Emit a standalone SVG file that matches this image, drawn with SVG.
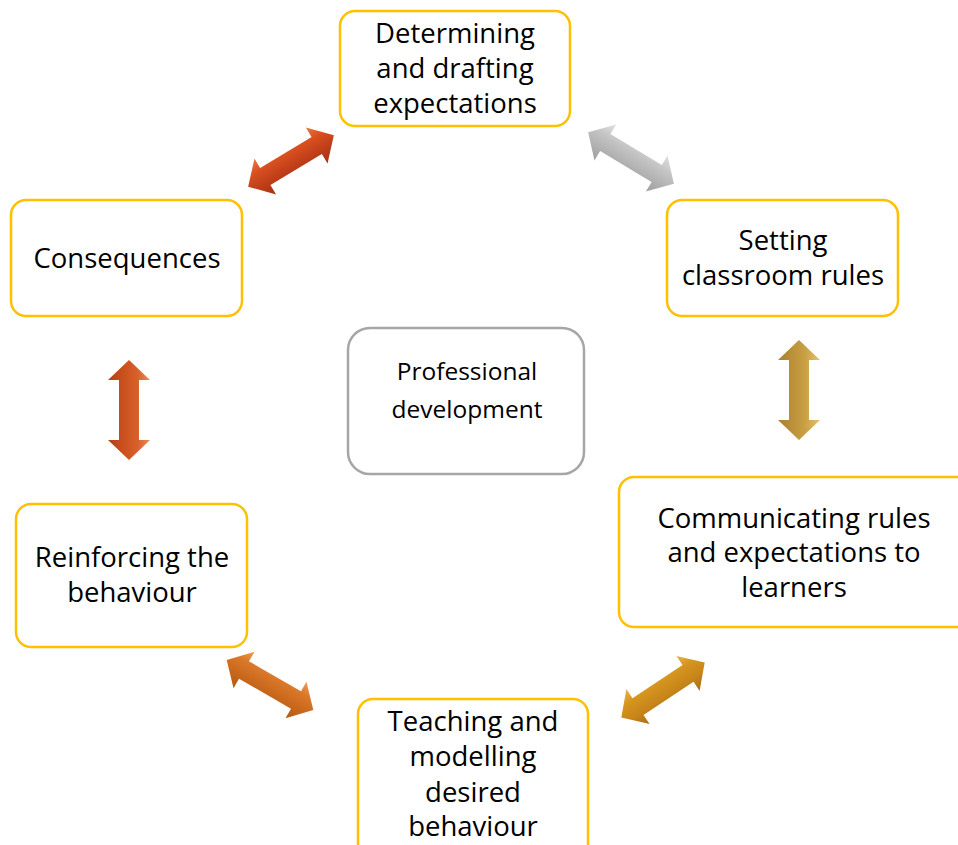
<svg xmlns="http://www.w3.org/2000/svg" width="958" height="845" viewBox="0 0 958 845">
  <style>
    .box { fill: #ffffff; stroke: #FFC000; stroke-width: 2.5; }
    .core { fill: #ffffff; stroke: #A6A6A6; stroke-width: 2.5; }
    .lbl { font-family: "Open Sans", Lato, "Liberation Sans", sans-serif; font-size: 27.5px; fill: #000; text-anchor: middle; }
    .lbl-s { font-size: 24.5px; }
  </style>
  <defs>
    <!-- double-headed arrow, 100 long, centred on the origin, pointing along x -->
    <polygon id="dbl" points="-50,0 -30,-21 -30,-10 30,-10 30,-21 50,0 30,21 30,10 -30,10 -30,21"/>
    <linearGradient id="gRed" x1="0" y1="0" x2="0" y2="1">
      <stop offset="0" stop-color="#E8784A"/><stop offset="0.3" stop-color="#D9501F"/><stop offset="0.6" stop-color="#C2401A"/><stop offset="1" stop-color="#A93012"/>
    </linearGradient>
    <linearGradient id="gGray" x1="0" y1="0" x2="0" y2="1">
      <stop offset="0" stop-color="#E0E0E0"/><stop offset="0.35" stop-color="#C4C4C4"/><stop offset="0.7" stop-color="#B0B0B0"/><stop offset="1" stop-color="#A0A0A0"/>
    </linearGradient>
    <linearGradient id="gGold" x1="0" y1="0" x2="0" y2="1">
      <stop offset="0" stop-color="#E6C36E"/><stop offset="0.35" stop-color="#C9A045"/><stop offset="0.7" stop-color="#B98F38"/><stop offset="1" stop-color="#A88030"/>
    </linearGradient>
    <linearGradient id="gRust" x1="0" y1="0" x2="0" y2="1">
      <stop offset="0" stop-color="#EE8A55"/><stop offset="0.3" stop-color="#D8602A"/><stop offset="0.65" stop-color="#C9501E"/><stop offset="1" stop-color="#B04018"/>
    </linearGradient>
    <linearGradient id="gOrange" x1="0" y1="0" x2="0" y2="1">
      <stop offset="0" stop-color="#EE9A55"/><stop offset="0.3" stop-color="#D9782A"/><stop offset="0.65" stop-color="#C9681C"/><stop offset="1" stop-color="#B05A14"/>
    </linearGradient>
    <linearGradient id="gAmber" x1="0" y1="0" x2="0" y2="1">
      <stop offset="0" stop-color="#EAB050"/><stop offset="0.3" stop-color="#D6951E"/><stop offset="0.65" stop-color="#C8851A"/><stop offset="1" stop-color="#A87014"/>
    </linearGradient>
  </defs>

  <g id="connectors">
    <use href="#dbl" fill="url(#gRed)" transform="translate(291,161) rotate(-31)"/>
    <use href="#dbl" fill="url(#gGray)" transform="translate(631,158) rotate(31)"/>
    <use href="#dbl" fill="url(#gGold)" transform="translate(799,390) rotate(90)"/>
    <use href="#dbl" fill="url(#gAmber)" transform="translate(663,690) rotate(-33.5)"/>
    <use href="#dbl" fill="url(#gOrange)" transform="translate(270,685) rotate(30)"/>
    <use href="#dbl" fill="url(#gRust)" transform="translate(129,410) rotate(90)"/>
  </g>

  <g id="determining">
    <rect class="box" x="340" y="11" width="230" height="115" rx="15"/>
    <text class="lbl" x="455" y="43">Determining</text>
    <text class="lbl" x="455" y="78">and drafting</text>
    <text class="lbl" x="455" y="113">expectations</text>
  </g>

  <g id="setting">
    <rect class="box" x="667" y="200" width="231" height="116" rx="15"/>
    <text class="lbl" x="783" y="250">Setting</text>
    <text class="lbl" x="783" y="285">classroom rules</text>
  </g>

  <g id="communicating">
    <rect class="box" x="619" y="477" width="360" height="150" rx="15"/>
    <text class="lbl" x="794" y="528">Communicating rules</text>
    <text class="lbl" x="794" y="562">and expectations to</text>
    <text class="lbl" x="794" y="597">learners</text>
  </g>

  <g id="teaching">
    <rect class="box" x="358" y="699" width="230" height="170" rx="15"/>
    <text class="lbl" x="473" y="731">Teaching and</text>
    <text class="lbl" x="473" y="766">modelling</text>
    <text class="lbl" x="473" y="802">desired</text>
    <text class="lbl" x="473" y="836">behaviour</text>
  </g>

  <g id="reinforcing">
    <rect class="box" x="16" y="504" width="231" height="143" rx="15"/>
    <text class="lbl" x="132" y="567">Reinforcing the</text>
    <text class="lbl" x="132" y="602">behaviour</text>
  </g>

  <g id="consequences">
    <rect class="box" x="11" y="200" width="231" height="116" rx="15"/>
    <text class="lbl" x="127" y="268">Consequences</text>
  </g>

  <g id="professional">
    <rect class="core" x="348" y="328" width="236" height="146" rx="22"/>
    <text class="lbl lbl-s" x="467" y="380">Professional</text>
    <text class="lbl lbl-s" x="467" y="418">development</text>
  </g>
</svg>
